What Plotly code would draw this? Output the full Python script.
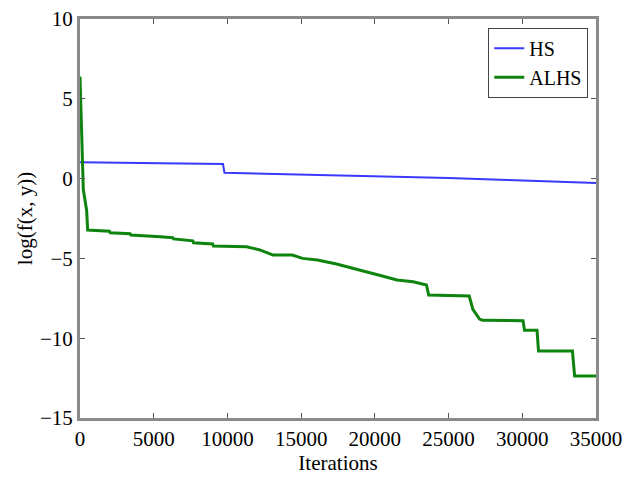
import plotly.graph_objects as go

# HS series (iterations, log value)
hs_iter = [0, 9700, 9800, 15000, 22200, 25000, 29000, 31000, 35000]
hs_val = [1.02, 0.91, 0.37, 0.25, 0.12, 0.03, -0.09, -0.16, -0.27]

# ALHS series
alhs_iter = [0, 100, 160, 225, 330, 450, 520, 2000, 2050, 3400, 3450, 5400, 5450, 6300, 6350,
             7650, 7700, 9000, 9050, 11300, 12200, 13100, 14400, 15100, 16100, 17400,
             18300, 19500, 20500, 21500, 22600, 23500, 23650, 26400, 26650, 27100,
             27300, 30050, 30150, 31000, 31100, 33400, 33450, 33550, 35000]
alhs_val = [6.4, 3.0, 1.2, -0.7, -1.3, -2.0, -3.22, -3.3, -3.39, -3.45, -3.53, -3.6, -3.64, -3.7, -3.78,
            -3.9, -4.02, -4.1, -4.22, -4.27, -4.47, -4.79, -4.79, -5.0, -5.1, -5.35,
            -5.56, -5.83, -6.1, -6.35, -6.46, -6.67, -7.3, -7.36, -8.2, -8.8,
            -8.88, -8.9, -9.5, -9.5, -10.8, -10.8, -11.4, -12.37, -12.37]

x_ticks = [0, 5000, 10000, 15000, 20000, 25000, 30000, 35000]
x_tick_text = ["0", "5000", "10000", "15000", "20000", "25000", "30000", "35000"]
y_ticks = [10, 5, 0, -5, -10, -15]
y_tick_text = ["10", "5", "0", "\u22125", "\u221210", "\u221215"]

font = dict(family="Liberation Serif", size=21, color="black")
legend_font = dict(family="Liberation Serif", size=20, color="black")

fig = go.Figure()
fig.add_trace(go.Scatter(x=hs_iter, y=hs_val, mode="lines", name="HS",
                         line=dict(color="#3a3aff", width=2)))
fig.add_trace(go.Scatter(x=alhs_iter, y=alhs_val, mode="lines", name="ALHS",
                         line=dict(color="#0e840e", width=3)))

axis_common = dict(showgrid=False, zeroline=False, showline=True, mirror="ticks",
                   linecolor="#8a8a8a", linewidth=3, ticks="inside", ticklen=5,
                   tickcolor="#555555", tickwidth=1, tickfont=font, automargin=False)

fig.update_layout(
    width=627, height=477,
    margin=dict(l=80, r=31, t=19, b=59),
    paper_bgcolor="white", plot_bgcolor="white",
    font=font,
    xaxis=dict(range=[0, 35000], tickvals=x_ticks, ticktext=x_tick_text,
               title=dict(text="Iterations", font=font, standoff=2), **axis_common),
    yaxis=dict(range=[-15, 10], tickvals=y_ticks, ticktext=y_tick_text,
               title=dict(text="log(f(x, y))", font=font, standoff=2), **axis_common),
    legend=dict(x=0.985, y=0.978, xanchor="right", yanchor="top",
                bordercolor="#444444", borderwidth=1, bgcolor="white",
                font=legend_font, tracegroupgap=0, itemwidth=30),
    showlegend=True,
)

fig.write_html("out.html")
